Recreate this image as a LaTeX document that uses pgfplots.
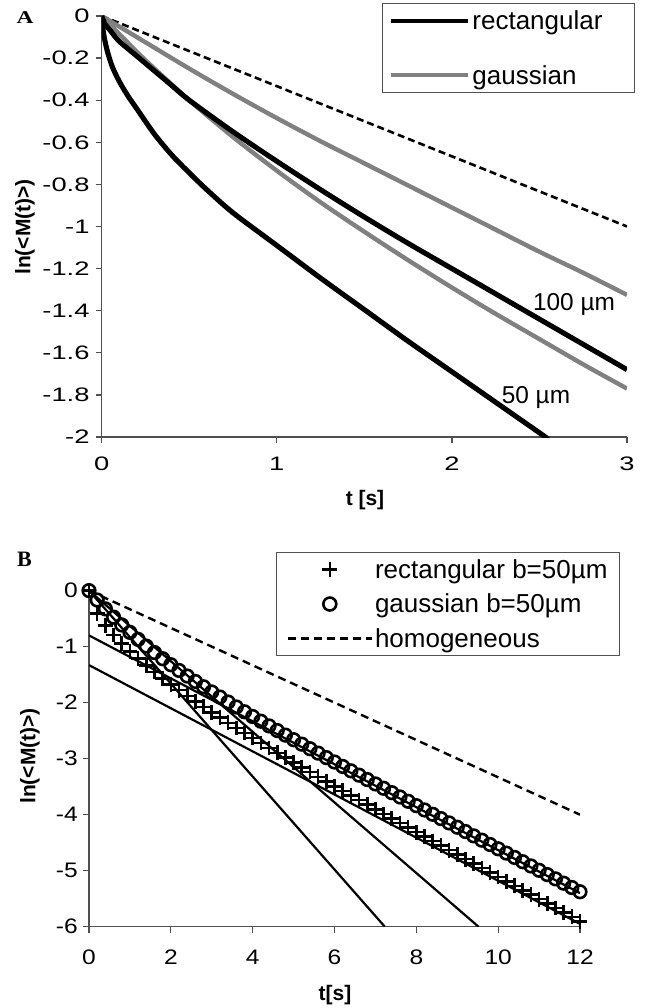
\documentclass[border=0pt]{standalone}
\usepackage{pgfplots}
\pgfplotsset{compat=1.18}
\usepackage{fontspec}
\setmainfont{Liberation Sans}
\newfontfamily\letterfont{Liberation Serif}
\usepackage{graphicx}
\definecolor{gline}{RGB}{128,128,128}
\definecolor{axgray}{RGB}{80,80,80}
\newcommand{\ta}[1]{\scalebox{1.4}[1]{#1}}
\newcommand{\tb}[1]{\scalebox{1.17}[1]{#1}}

\pgfplotsset{
  excel/.style={
    scale only axis,
    axis lines=left,
    axis line style={axgray, line width=1.3pt, -},
    tick align=outside,
    major tick length=6pt,
    tick style={axgray, line width=1.3pt},
    legend cell align=left,
  },
}

\begin{document}
\begin{tikzpicture}
\useasboundingbox (0pt,0pt) rectangle (650pt,-1008pt);

% ---------- panel A ----------
\begin{axis}[excel,
  at={(101.7pt,-437pt)}, anchor=south west,
  width=525.3pt, height=421pt,
  xmin=0, xmax=3, ymin=-2, ymax=0,
  xtick={0,1,2,3}, xticklabels={\ta{0},\ta{1},\ta{2},\ta{3}},
  ytick={-2,-1.8,-1.6,-1.4,-1.2,-1,-0.8,-0.6,-0.4,-0.2,0},
  yticklabels={\ta{-2},\ta{-1.8},\ta{-1.6},\ta{-1.4},\ta{-1.2},\ta{-1},\ta{-0.8},\ta{-0.6},\ta{-0.4},\ta{-0.2},\ta{0}},
  xticklabel style={font=\fontsize{19.5}{22}\selectfont, anchor=north, inner sep=0pt, yshift=-14pt},
  yticklabel style={font=\fontsize{19.5}{22}\selectfont, anchor=east, inner sep=0pt, xshift=-6pt},
  legend image code/.code={\draw[#1] (0pt,0pt) -- (77pt,0pt);},
  legend style={at={(1.0152,1.030)}, anchor=north east, draw=axgray, line width=1pt,
    font=\fontsize{26}{30}\selectfont, inner xsep=6pt, inner ysep=5pt, row sep=30pt,
    nodes={inner sep=2pt}},
]
\addlegendimage{black, line width=4.9pt}
\addlegendentry{rectangular\hspace*{24pt}}
\addlegendimage{gline, line width=4.2pt}
\addlegendentry{gaussian}

% homogeneous
\addplot[black, line width=2.6pt, dash pattern=on 7pt off 4pt] coordinates {(0,0) (3,-1)};
% gaussian b=100
\addplot[gline, line width=4.4pt, smooth] coordinates {
 (0,0) (0.1,-0.05) (0.25,-0.125) (0.5,-0.25) (0.75,-0.37) (1,-0.485) (1.25,-0.595)
 (1.5,-0.70) (1.75,-0.805) (2,-0.91) (2.25,-1.015) (2.5,-1.12) (2.75,-1.22) (3,-1.325)};
% gaussian b=50
\addplot[gline, line width=4.4pt, smooth] coordinates {
 (0,0) (0.1,-0.085) (0.25,-0.21) (0.5,-0.40) (0.75,-0.575) (1,-0.735) (1.25,-0.885)
 (1.5,-1.025) (1.75,-1.16) (2,-1.29) (2.25,-1.415) (2.5,-1.535) (2.75,-1.655) (3,-1.77)};
% rectangular b=100
\addplot[black, line width=5.1pt, smooth] coordinates {
 (0,0) (0.02,-0.04) (0.05,-0.07) (0.1,-0.12) (0.2,-0.19) (0.3,-0.26) (0.4,-0.33)
 (0.5,-0.40) (0.75,-0.55) (1,-0.69) (1.25,-0.825) (1.5,-0.955) (1.75,-1.08) (2,-1.20)
 (2.25,-1.32) (2.5,-1.44) (2.75,-1.56) (3,-1.68)};
% rectangular b=50
\addplot[black, line width=5.1pt, smooth] coordinates {
 (0,0) (0.01,-0.08) (0.03,-0.16) (0.06,-0.24) (0.1,-0.31) (0.15,-0.38) (0.2,-0.44)
 (0.3,-0.56) (0.4,-0.66) (0.5,-0.745) (0.6,-0.825) (0.75,-0.935) (1,-1.09) (1.25,-1.245)
 (1.5,-1.395) (1.75,-1.545) (2,-1.69) (2.25,-1.835) (2.5,-1.98) (2.55,-2.01)};
\end{axis}

% ---------- panel B ----------
\begin{axis}[excel,
  at={(89pt,-926.7pt)}, anchor=south west,
  width=491pt, height=336.1pt,
  xmin=0, xmax=12, ymin=-6, ymax=0,
  xtick={0,2,4,6,8,10,12}, xticklabels={\tb{0},\tb{2},\tb{4},\tb{6},\tb{8},\tb{10},\tb{12}},
  ytick={-6,-5,-4,-3,-2,-1,0}, yticklabels={\tb{-6},\tb{-5},\tb{-4},\tb{-3},\tb{-2},\tb{-1},\tb{0}},
  xticklabel style={font=\fontsize{21}{24}\selectfont, anchor=north, inner sep=0pt, yshift=-17pt},
  yticklabel style={font=\fontsize{21}{24}\selectfont, anchor=east, inner sep=0pt, xshift=-5pt},
  clip=true,
  legend image code/.code={\draw[mark repeat=2, mark phase=2, #1] plot coordinates {(0pt,0pt) (42pt,0pt) (84pt,0pt)};},
  legend style={at={(1.0815,1.1148)}, anchor=north east, draw=axgray, line width=1pt,
    font=\fontsize{26}{30}\selectfont, inner xsep=10pt, inner ysep=5pt, row sep=10pt,
    nodes={inner sep=2pt}},
]
\addlegendimage{only marks, mark=+, mark size=7.5pt, mark options={black, line width=2.6pt}}
\addlegendentry{rectangular b=50µm}
\addlegendimage{only marks, mark=o, mark size=6.5pt, mark options={black, line width=2.6pt}}
\addlegendentry{gaussian b=50µm}
\addlegendimage{black, line width=2.4pt, dash pattern=on 8pt off 5pt}
\addlegendentry{homogeneous}

% short- and long-time straight lines
\addplot[black, line width=2.2pt] coordinates {(0,-0.80) (12,-5.40)};
\addplot[black, line width=2.2pt] coordinates {(0,-1.33) (12,-5.95)};
\addplot[black, line width=2.2pt] coordinates {(0,0) (7.23,-6)};
\addplot[black, line width=2.2pt] coordinates {(0,0) (9.52,-6)};
% homogeneous
\addplot[black, line width=2.4pt, dash pattern=on 8pt off 5pt] coordinates {(0,0) (12,-4)};
% rectangular b=50um
\addplot[only marks, mark=+, mark size=7.4pt, mark options={black, line width=2.6pt}] table[row sep=\\] {
x y\\
0 0\\ 0.2 -0.407\\ 0.4 -0.621\\ 0.6 -0.794\\ 0.8 -0.947\\ 1.0 -1.086\\ 1.2 -1.215\\ 1.4 -1.337\\
1.6 -1.453\\ 1.8 -1.565\\ 2.0 -1.672\\ 2.2 -1.777\\ 2.4 -1.879\\ 2.6 -1.979\\ 2.8 -2.076\\ 3.0 -2.172\\
3.2 -2.267\\ 3.4 -2.360\\ 3.6 -2.451\\ 3.8 -2.542\\ 4.0 -2.632\\ 4.2 -2.721\\ 4.4 -2.809\\ 4.6 -2.896\\
4.8 -2.983\\ 5.0 -3.069\\ 5.2 -3.154\\ 5.4 -3.239\\ 5.6 -3.324\\ 5.8 -3.408\\ 6.0 -3.492\\ 6.2 -3.575\\
6.4 -3.658\\ 6.6 -3.741\\ 6.8 -3.823\\ 7.0 -3.905\\ 7.2 -3.987\\ 7.4 -4.068\\ 7.6 -4.150\\ 7.8 -4.231\\
8.0 -4.312\\ 8.2 -4.393\\ 8.4 -4.473\\ 8.6 -4.554\\ 8.8 -4.634\\ 9.0 -4.714\\ 9.2 -4.794\\ 9.4 -4.874\\
9.6 -4.953\\ 9.8 -5.033\\ 10.0 -5.112\\ 10.2 -5.192\\ 10.4 -5.271\\ 10.6 -5.350\\ 10.8 -5.429\\
11.0 -5.508\\ 11.2 -5.587\\ 11.4 -5.666\\ 11.6 -5.745\\ 11.8 -5.824\\ 12.0 -5.902\\
};
% gaussian b=50um
\addplot[only marks, mark=o, mark size=6.3pt, mark options={black, line width=2.6pt}] table[row sep=\\] {
x y\\
0 0\\ 0.2 -0.168\\ 0.4 -0.326\\ 0.6 -0.474\\ 0.8 -0.613\\ 1.0 -0.746\\ 1.2 -0.871\\ 1.4 -0.991\\
1.6 -1.106\\ 1.8 -1.216\\ 2.0 -1.323\\ 2.2 -1.425\\ 2.4 -1.525\\ 2.6 -1.622\\ 2.8 -1.717\\ 3.0 -1.809\\
3.2 -1.900\\ 3.4 -1.989\\ 3.6 -2.077\\ 3.8 -2.163\\ 4.0 -2.248\\ 4.2 -2.332\\ 4.4 -2.415\\ 4.6 -2.498\\
4.8 -2.580\\ 5.0 -2.661\\ 5.2 -2.741\\ 5.4 -2.822\\ 5.6 -2.901\\ 5.8 -2.981\\ 6.0 -3.060\\ 6.2 -3.139\\
6.4 -3.217\\ 6.6 -3.295\\ 6.8 -3.373\\ 7.0 -3.451\\ 7.2 -3.529\\ 7.4 -3.607\\ 7.6 -3.684\\ 7.8 -3.761\\
8.0 -3.839\\ 8.2 -3.916\\ 8.4 -3.993\\ 8.6 -4.070\\ 8.8 -4.147\\ 9.0 -4.224\\ 9.2 -4.301\\ 9.4 -4.378\\
9.6 -4.455\\ 9.8 -4.532\\ 10.0 -4.609\\ 10.2 -4.686\\ 10.4 -4.763\\ 10.6 -4.840\\ 10.8 -4.916\\
11.0 -4.993\\ 11.2 -5.070\\ 11.4 -5.146\\ 11.6 -5.223\\ 11.8 -5.300\\ 12.0 -5.376\\
};
\end{axis}

% panel letters, axis titles and curve labels
\node[font=\letterfont\bfseries\fontsize{18}{20}\selectfont] at (25pt,-18pt) {\scalebox{1.3}[1]{A}};
\node[font=\letterfont\bfseries\fontsize{22}{24}\selectfont] at (24.5pt,-559.5pt) {B};
\node[rotate=90, font=\bfseries\fontsize{21}{24}\selectfont] at (25pt,-227pt) {ln(<M(t)>)};
\node[rotate=90, font=\bfseries\fontsize{21}{24}\selectfont] at (30pt,-756pt) {ln(<M(t)>)};
\node[font=\bfseries\fontsize{21}{24}\selectfont] at (365pt,-500pt) {t [s]};
\node[font=\bfseries\fontsize{21}{24}\selectfont] at (335pt,-995pt) {t[s]};
\node[font=\fontsize{24.4}{26}\selectfont] at (574pt,-305pt) {100 µm};
\node[font=\fontsize{24.4}{26}\selectfont] at (536pt,-398pt) {50 µm};
\end{tikzpicture}
\end{document}
